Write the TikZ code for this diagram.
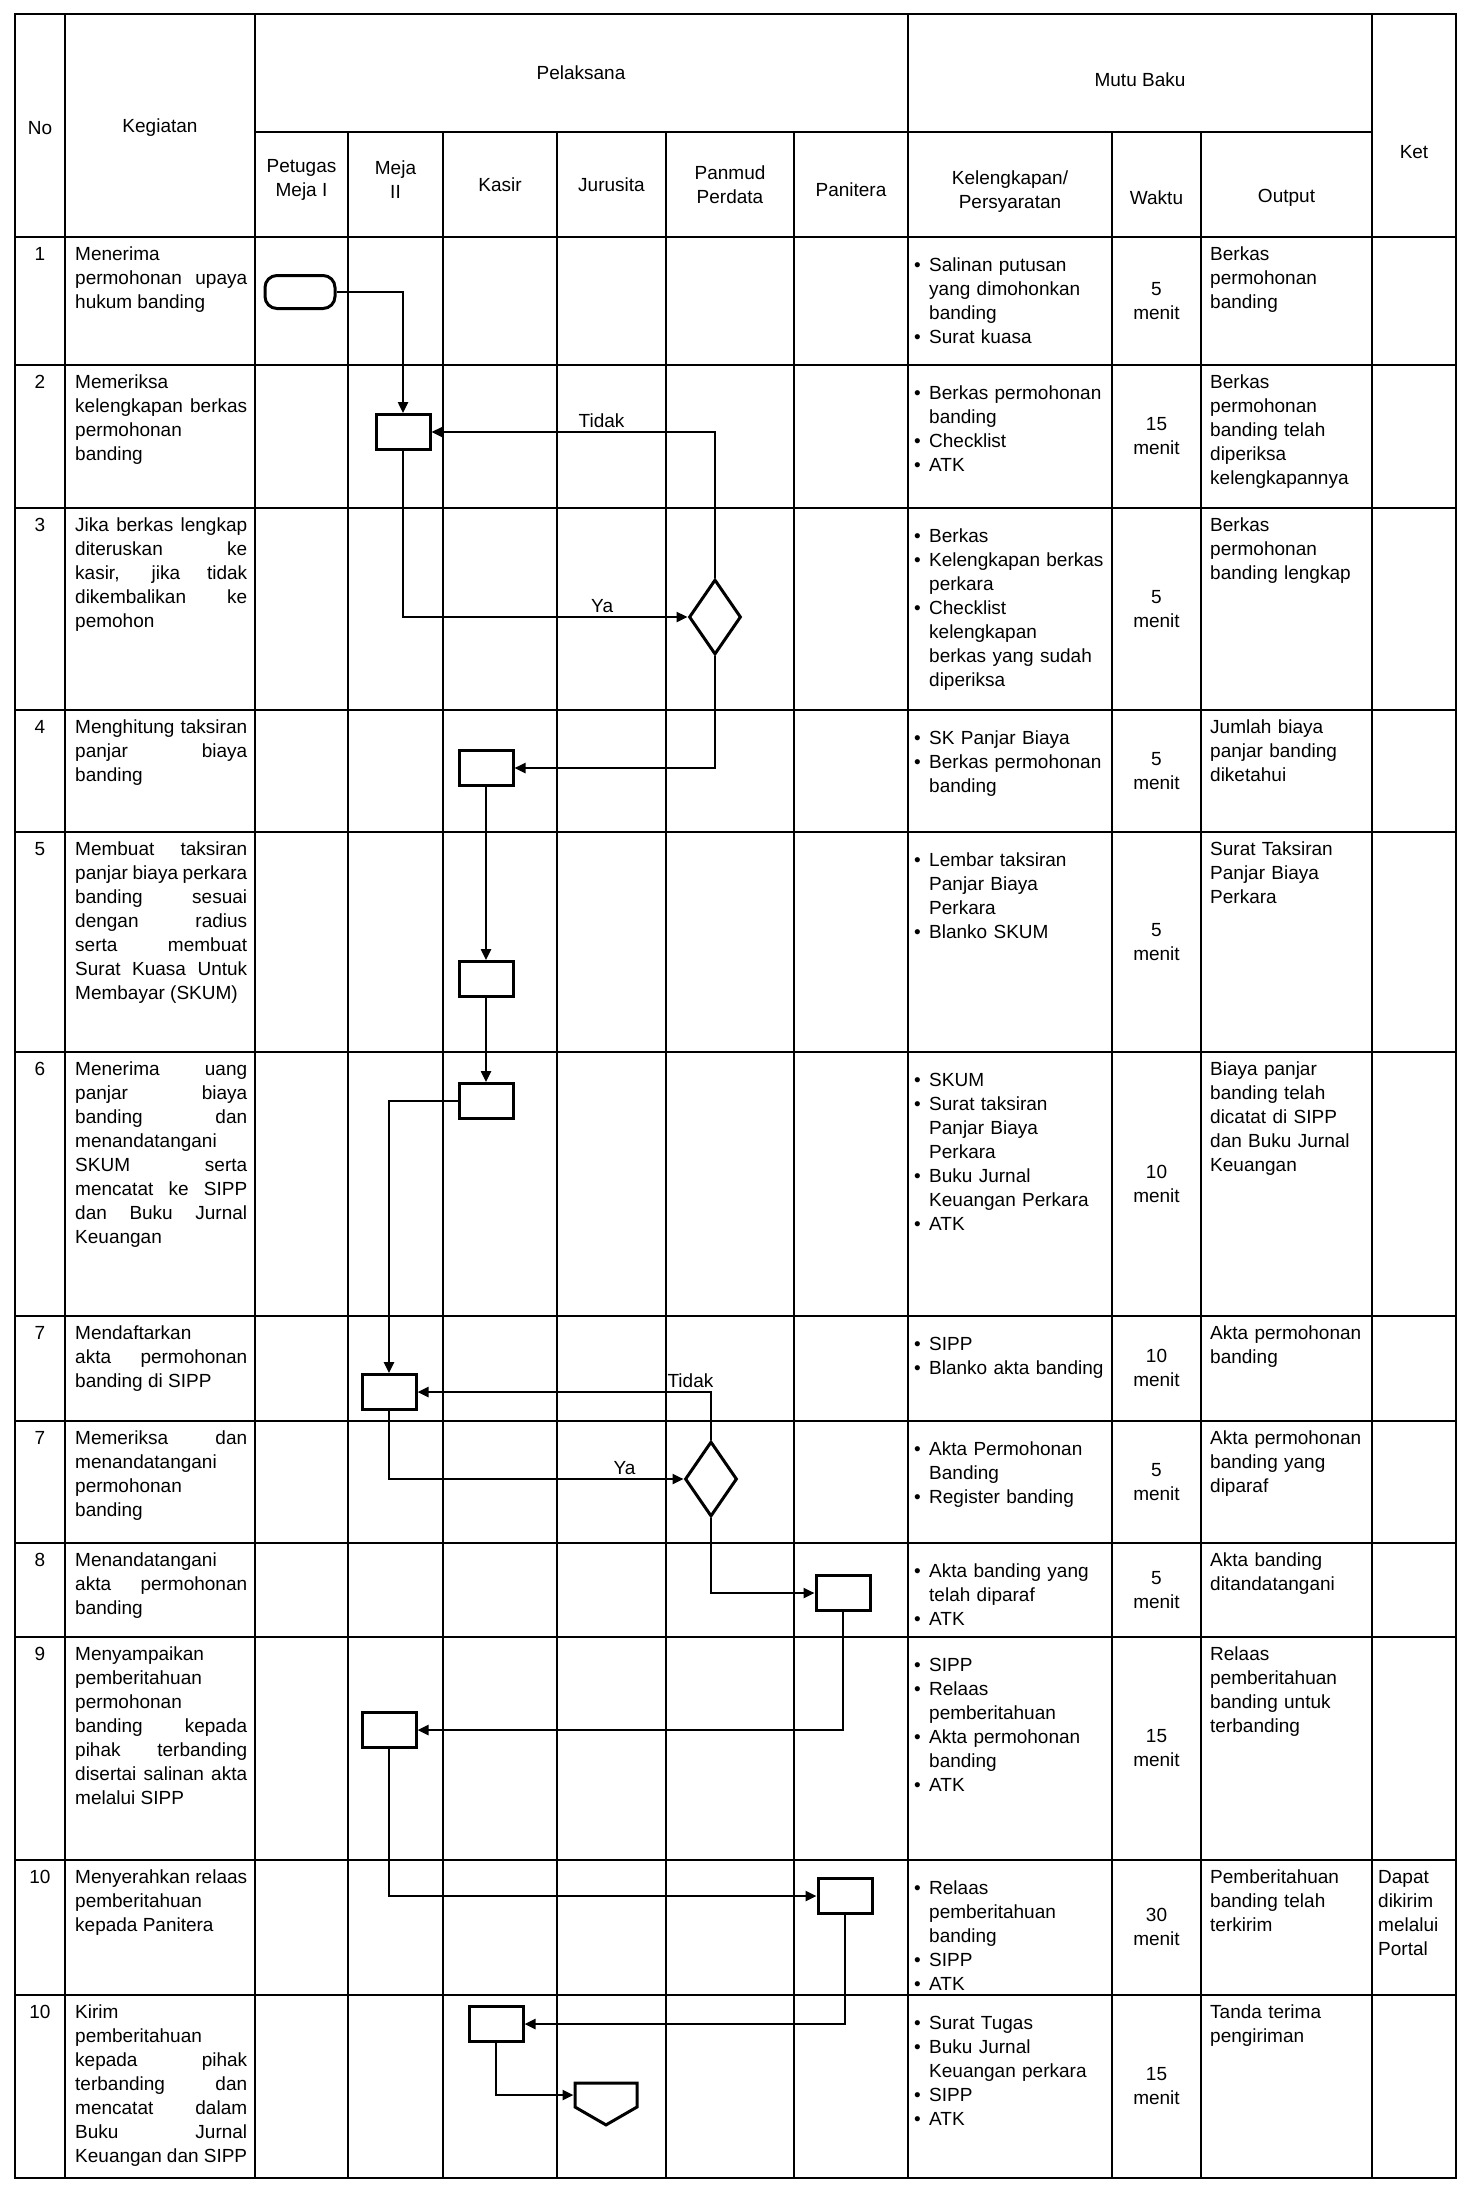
\documentclass[tikz,border=0pt]{standalone}
\usepackage{fontspec}
\setmainfont{Liberation Sans}
\usetikzlibrary{arrows.meta,shapes.geometric,shapes.symbols}
\newcommand{\cellfont}{\fontsize{19}{24}\selectfont\tolerance=9999\emergencystretch=150pt\hyphenpenalty=10000\exhyphenpenalty=10000\hbadness=10000}
\newcommand{\itm}[1]{\par\hangindent=15pt\hangafter=1\noindent\makebox[15pt][l]{\textbullet}#1\par}
\begin{document}
\begin{tikzpicture}[x=1pt,y=-1pt,
 tline/.style={line width=2.4pt},
 proc/.style={draw, line width=3pt, fill=white, minimum width=54pt, minimum height=35pt, inner sep=0pt},
 term/.style={draw, line width=3pt, fill=white, rounded corners=12pt, minimum width=70pt, minimum height=33pt, inner sep=0pt},
 dec/.style={draw, diamond, line width=3pt, fill=white, minimum width=52pt, minimum height=75pt, inner sep=0pt},
 offpage/.style={draw, signal, signal to=south, signal pointer angle=120, line width=3pt, fill=white, minimum width=62pt, minimum height=24pt, inner sep=0pt},
 flow/.style={line width=2.4pt, -{Triangle[length=11pt,width=10pt]}},
 lbl/.style={font=\cellfont, inner sep=3pt},
 keg/.style={anchor=north west, text width=172pt, align=justify, font=\cellfont, inner sep=0pt},
 kel/.style={anchor=north west, text width=192pt, align=left, font=\cellfont, inner sep=0pt},
 outp/.style={anchor=north west, text width=155pt, align=left, font=\cellfont, inner sep=0pt},
 ketx/.style={anchor=north west, text width=78pt, align=left, font=\cellfont, inner sep=0pt},
 num/.style={anchor=north, font=\cellfont, inner sep=0pt},
 wkt/.style={align=center, font=\cellfont, inner sep=0pt},
 hd/.style={align=center, font=\cellfont, inner sep=0pt}]
\fill[white] (0,0) rectangle (1471,2185);
\useasboundingbox (0,0) rectangle (1471,2185);
% grid
\draw[tline] (15,14) rectangle (1456,2178);
\draw[tline] (255,132) -- (1372,132);
\foreach \y in {237,365,508,710,832,1052,1316,1421,1543,1637,1860,1995} \draw[tline] (15,\y) -- (1456,\y);
\foreach \x in {65,255,908,1372} \draw[tline] (\x,14) -- (\x,2178);
\foreach \x in {348,443,557,666,794,1112,1201} \draw[tline] (\x,132) -- (\x,2178);
% headers
\node[hd] (hNo) at (40,128) {No};
\node[hd] (hKeg) at (160,128) {Kegiatan};
\node[hd] (hPel) at (581,73) {Pelaksana};
\node[hd] (hMutu) at (1140,80) {Mutu Baku};
\node[hd] (hKet) at (1414,152) {Ket};
\node[hd] (h1) at (301.5,180) {Petugas\\Meja I};
\node[hd] (h2) at (395.5,180) {Meja\\II};
\node[hd] (h3) at (500,185) {Kasir};
\node[hd] (h4) at (611.5,185) {Jurusita};
\node[hd] (h5) at (730,185) {Panmud\\Perdata};
\node[hd] (h6) at (851,190) {Panitera};
\node[hd] (h7) at (1010,192) {Kelengkapan/\\Persyaratan};
\node[hd] (h8) at (1156.5,198) {Waktu};
\node[hd] (h9) at (1286.5,198) {Output};
% row 1
\node[num] (n1) at (40,247) {1};
\node[keg] (k1) at (75,247) {Menerima permohonan upaya hukum banding};
\node[kel] (l1) at (914,247) {\itm{Salinan putusan yang dimohonkan banding}\itm{Surat kuasa}};
\node[wkt] (w1) at (1156.5,301) {5\\menit};
\node[outp] (o1) at (1210,247) {Berkas permohonan banding};
% row 2
\node[num] (n2) at (40,375) {2};
\node[keg] (k2) at (75,375) {Memeriksa kelengkapan berkas permohonan banding};
\node[kel] (l2) at (914,375) {\itm{Berkas permohonan banding}\itm{Checklist}\itm{ATK}};
\node[wkt] (w2) at (1156.5,436) {15\\menit};
\node[outp] (o2) at (1210,375) {Berkas permohonan banding telah diperiksa kelengkapannya};
% row 3
\node[num] (n3) at (40,518) {3};
\node[keg] (k3) at (75,518) {Jika berkas lengkap diteruskan ke kasir, jika tidak dikembalikan ke pemohon};
\node[kel] (l3) at (914,518) {\itm{Berkas}\itm{Kelengkapan berkas perkara}\itm{Checklist kelengkapan berkas yang sudah diperiksa}};
\node[wkt] (w3) at (1156.5,609) {5\\menit};
\node[outp] (o3) at (1210,518) {Berkas permohonan banding lengkap};
% row 4
\node[num] (n4) at (40,720) {4};
\node[keg] (k4) at (75,720) {Menghitung taksiran panjar biaya banding};
\node[kel] (l4) at (914,720) {\itm{SK Panjar Biaya}\itm{Berkas permohonan banding}};
\node[wkt] (w4) at (1156.5,771) {5\\menit};
\node[outp] (o4) at (1210,720) {Jumlah biaya panjar banding diketahui};
% row 5
\node[num] (n5) at (40,842) {5};
\node[keg] (k5) at (75,842) {Membuat taksiran panjar biaya perkara banding sesuai dengan radius serta membuat Surat Kuasa Untuk Membayar (SKUM)};
\node[kel] (l5) at (914,842) {\itm{Lembar taksiran Panjar Biaya Perkara}\itm{Blanko SKUM}};
\node[wkt] (w5) at (1156.5,942) {5\\menit};
\node[outp] (o5) at (1210,842) {Surat Taksiran Panjar Biaya Perkara};
% row 6
\node[num] (n6) at (40,1062) {6};
\node[keg] (k6) at (75,1062) {Menerima uang panjar biaya banding dan menandatangani SKUM serta mencatat ke SIPP dan Buku Jurnal Keuangan};
\node[kel] (l6) at (914,1062) {\itm{SKUM}\itm{Surat taksiran Panjar Biaya Perkara}\itm{Buku Jurnal Keuangan Perkara}\itm{ATK}};
\node[wkt] (w6) at (1156.5,1184) {10\\menit};
\node[outp] (o6) at (1210,1062) {Biaya panjar banding telah dicatat di SIPP dan Buku Jurnal Keuangan};
% row 7
\node[num] (n7) at (40,1326) {7};
\node[keg] (k7) at (75,1326) {Mendaftarkan akta permohonan banding di SIPP};
\node[kel] (l7) at (914,1326) {\itm{SIPP}\itm{Blanko akta banding}};
\node[wkt] (w7) at (1156.5,1368) {10\\menit};
\node[outp] (o7) at (1210,1326) {Akta permohonan banding};
% row 8
\node[num] (n8) at (40,1431) {7};
\node[keg] (k8) at (75,1431) {Memeriksa dan menandatangani permohonan banding};
\node[kel] (l8) at (914,1431) {\itm{Akta Permohonan Banding}\itm{Register banding}};
\node[wkt] (w8) at (1156.5,1482) {5\\menit};
\node[outp] (o8) at (1210,1431) {Akta permohonan banding yang diparaf};
% row 9
\node[num] (n9) at (40,1553) {8};
\node[keg] (k9) at (75,1553) {Menandatangani akta permohonan banding};
\node[kel] (l9) at (914,1553) {\itm{Akta banding yang telah diparaf}\itm{ATK}};
\node[wkt] (w9) at (1156.5,1590) {5\\menit};
\node[outp] (o9) at (1210,1553) {Akta banding ditandatangani};
% row 10
\node[num] (n10) at (40,1647) {9};
\node[keg] (k10) at (75,1647) {Menyampaikan pemberitahuan permohonan banding kepada pihak terbanding disertai salinan akta melalui SIPP};
\node[kel] (l10) at (914,1647) {\itm{SIPP}\itm{Relaas pemberitahuan}\itm{Akta permohonan banding}\itm{ATK}};
\node[wkt] (w10) at (1156.5,1748) {15\\menit};
\node[outp] (o10) at (1210,1647) {Relaas pemberitahuan banding untuk terbanding};
% row 11
\node[num] (n11) at (40,1870) {10};
\node[keg] (k11) at (75,1870) {Menyerahkan relaas pemberitahuan kepada Panitera};
\node[kel] (l11) at (914,1870) {\itm{Relaas pemberitahuan banding}\itm{SIPP}\itm{ATK}};
\node[wkt] (w11) at (1156.5,1927) {30\\menit};
\node[outp] (o11) at (1210,1870) {Pemberitahuan banding telah terkirim};
\node[ketx] (x11) at (1378,1870) {Dapat dikirim melalui Portal};
% row 12
\node[num] (n12) at (40,2005) {10};
\node[keg] (k12) at (75,2005) {Kirim pemberitahuan kepada pihak terbanding dan mencatat dalam Buku Jurnal Keuangan dan SIPP};
\node[kel] (l12) at (914,2005) {\itm{Surat Tugas}\itm{Buku Jurnal Keuangan perkara}\itm{SIPP}\itm{ATK}};
\node[wkt] (w12) at (1156.5,2086) {15\\menit};
\node[outp] (o12) at (1210,2005) {Tanda terima pengiriman};
% flow shapes
\node[term] (t1) at (300,292) {};
\node[proc] (b2) at (403,432) {};
\node[dec] (d1) at (715,617) {};
\node[proc] (b4) at (486,768) {};
\node[proc] (b5) at (486,979) {};
\node[proc] (b6) at (486,1101) {};
\node[proc] (b7) at (389,1392) {};
\node[dec] (d2) at (711,1479) {};
\node[proc] (b9) at (843,1593) {};
\node[proc] (b10) at (389,1730) {};
\node[proc] (b11) at (845,1896) {};
\node[proc] (b12) at (496,2024) {};
\node[offpage] (c13) at (606,2095) {};
% connectors
\draw[flow] (t1.east) -| (b2.north);
\draw[flow] (b2.south) |- node[lbl,pos=0.85,above] {Ya} (d1.west);
\draw[flow] (d1.north) |- node[lbl,pos=0.7,above] {Tidak} (b2.east);
\draw[flow] (d1.south) |- (b4.east);
\draw[flow] (b4.south) -- (b5.north);
\draw[flow] (b5.south) -- (b6.north);
\draw[flow] (b6.west) -| (b7.north);
\draw[flow] (b7.south) |- node[lbl,pos=0.9,above] {Ya} (d2.west);
\draw[flow] (d2.north) |- node[lbl,pos=0.535,above] {Tidak} (b7.east);
\draw[flow] (d2.south) |- (b9.west);
\draw[flow] (b9.south) |- (b10.east);
\draw[flow] (b10.south) |- (b11.west);
\draw[flow] (b11.south) |- (b12.east);
\draw[flow] (b12.south) |- (c13.west);
\end{tikzpicture}
\end{document}
